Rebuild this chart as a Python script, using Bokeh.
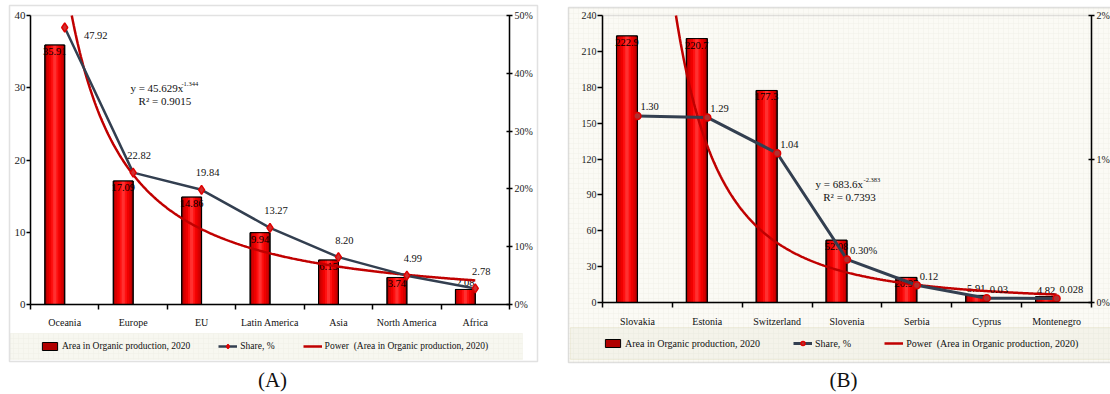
import numpy as np
from bokeh.plotting import figure
from bokeh.models import (Range1d, LinearAxis, FixedTicker, SingleIntervalTicker, PrintfTickFormatter,
                          ColumnDataSource, Label, BoxAnnotation, Legend, LegendItem)
from bokeh.layouts import row
from bokeh.embed import file_html
from bokeh.resources import INLINE
from bokeh.core.properties import value

FONT = "Liberation Serif"

# ---------------- data: panel A ----------------
regions = ["Oceania", "Europe", "EU", "Latin America", "Asia", "North America", "Africa"]
area_a = [35.91, 17.09, 14.86, 9.94, 6.15, 3.74, 2.08]
share_a = [47.92, 22.82, 19.84, 13.27, 8.20, 4.99, 2.78]
share_a_labels = ["47.92", "22.82", "19.84", "13.27", "8.20", "4.99", "2.78"]
trend_a = (45.629, -1.344)
r2_a = "0.9015"

# ---------------- data: panel B ----------------
countries = ["Slovakia", "Estonia", "Switzerland", "Slovenia", "Serbia", "Cyprus", "Montenegro"]
area_b = [222.9, 220.7, 177.3, 52.08, 20.97, 5.91, 4.82]
share_b = [1.30, 1.29, 1.04, 0.30, 0.12, 0.03, 0.028]
share_b_labels = ["1.30", "1.29", "1.04", "0.30%", "0.12", "0.03", "0.028"]
trend_b = (683.6, -2.383)
r2_b = "0.7393"

LEG_AREA = "Area in Organic production, 2020"
LEG_SHARE = "Share, %"
LEG_POWER = "Power  (Area in Organic production, 2020)"


def canvas_box(l, r, t, b, **kw):
    return BoxAnnotation(left=l, right=r, top=t, bottom=b, left_units="canvas", right_units="canvas",
                         top_units="canvas", bottom_units="canvas", **kw)


def build(cats, area, share, share_labels, trend, r2, cfg):
    n = len(cats)
    pos = list(range(1, n + 1))
    W, H = cfg["width"], 394
    L, R, T, B = cfg["left"], cfg["right"], cfg["top"], cfg["bottom"]
    fh = B - T
    pxx = (R - L) / n
    pxy = fh / cfg["ymax"]
    pxs = fh / cfg["smax"]
    # the frame covers the whole canvas; the plot area sits inside it
    p = figure(width=W, height=H, output_backend="svg", toolbar_location=None,
               x_range=Range1d(0.5 - L / pxx, n + 0.5 + (W - R) / pxx),
               y_range=Range1d(-(H - B) / pxy, cfg["ymax"] + T / pxy),
               min_border=0, min_border_left=0, min_border_right=0, min_border_top=0, min_border_bottom=0)
    p.extra_y_ranges = {"share": Range1d(-(H - B) / pxs, cfg["smax"] + T / pxs)}
    p.background_fill_color = "white"
    p.border_fill_color = "white"
    p.outline_line_color = None
    p.xgrid.visible = False
    p.ygrid.visible = False

    # panel decorations
    p.add_layout(canvas_box(*cfg["box"], fill_color=cfg["panel_fill"], fill_alpha=1.0, line_color=None,
                            level="underlay", hatch_pattern="cross", hatch_color=cfg["hatch"], hatch_scale=5,
                            hatch_weight=0.5))
    p.add_layout(canvas_box(*cfg["legbox"], fill_color=cfg["leg_fill"], fill_alpha=1.0, line_color=cfg["leg_line"],
                            line_width=1, level="underlay", hatch_pattern="cross", hatch_color=cfg["leg_hatch"],
                            hatch_scale=5, hatch_weight=0.5))
    p.add_layout(canvas_box(*cfg["box"], fill_color=None, line_color="#9A9A9A", line_width=1.5))
    # plot-area border
    p.add_layout(BoxAnnotation(left=0.5, right=n + 0.5, bottom=0, top=cfg["ymax"], fill_color=None,
                               line_color="#A0A0A0", line_width=1.5, level="underlay"))

    # bars with a cylindrical shading
    bw = cfg["bw"]
    bx = [x - bw / 2 for x in pos]
    src = ColumnDataSource(dict(x=bx, top=area))
    bars = p.vbar(x="x", top="top", width=bw, source=src, fill_color="#B00000", line_color="black", line_width=1)
    for f, c in [(0.82, "#D80000"), (0.6, "#F00000"), (0.36, "#FF1010"), (0.16, "#FF3030")]:
        p.vbar(x="x", top="top", width=bw * f, source=src, fill_color=c, line_color=None)
    p.vbar(x="x", top="top", width=bw, source=src, fill_color=None, line_color="black", line_width=1)

    # bar value labels
    ins = [v * pxy >= 16 for v in area]
    s_in = ColumnDataSource(dict(x=[b for b, k in zip(bx, ins) if k], y=[v for v, k in zip(area, ins) if k],
                                 t=[str(v) for v, k in zip(area, ins) if k]))
    s_out = ColumnDataSource(dict(x=[b for b, k in zip(bx, ins) if not k], y=[v for v, k in zip(area, ins) if not k],
                                  t=[str(v) for v, k in zip(area, ins) if not k]))
    p.text(x="x", y="y", text="t", source=s_in, text_font=value(FONT), text_font_size="10.5px",
           text_color="black", text_align="center", text_baseline="top", y_offset=3)
    p.text(x="x", y="y", text="t", source=s_out, text_font=value(FONT), text_font_size="10.5px",
           text_color="black", text_align="center", text_baseline="bottom", y_offset=-3)

    # power trendline from the equation shown on the chart, kept inside the plot area
    a, b = trend
    x0 = max(1.0, (cfg["ymax"] / a) ** (1.0 / b))
    xs = np.linspace(x0, n, 400)
    power = p.line(xs, a * xs ** b, line_color="#C00000", line_width=2.5)

    # share line
    sl = p.line(pos, share, y_range_name="share", line_color="#333F50", line_width=cfg["share_w"])
    sm = p.scatter(pos, share, y_range_name="share", marker=cfg["marker"], size=cfg["msize"],
                   fill_color=cfg["mfill"], line_color="#E00000", line_width=1.5)

    dxs, dys = [], []
    for v in share:
        if v * pxs > fh - 28:
            dxs.append(cfg["top_dx"]); dys.append(cfg["top_dy"])
        else:
            dxs.append(cfg["lab_dx"]); dys.append(cfg["lab_dy"])
    ls = ColumnDataSource(dict(x=pos, y=share, t=share_labels, dx=dxs, dy=dys))
    p.text(x="x", y="y", text="t", source=ls, y_range_name="share", x_offset="dx", y_offset="dy",
           text_font=value(FONT), text_font_size="10.5px", text_color="#111111",
           text_align=cfg["lab_align"], text_baseline="middle")

    # equation annotation
    ex, ey = cfg["eq"]
    rx, ry = cfg["r2"]
    p.add_layout(Label(x=ex, y=ey, text="y = %gx" % a, text_font=FONT, text_font_size="11px",
                       text_baseline="middle", text_color="#111111"))
    p.add_layout(Label(x=ex, y=ey, x_offset=cfg["sup_dx"], y_offset=4, text="%g" % b, text_font=FONT,
                       text_font_size="6.5px", text_baseline="middle", text_color="#111111"))
    p.add_layout(Label(x=rx, y=ry, text="R\u00b2 = " + r2, text_font=FONT, text_font_size="11px",
                       text_baseline="middle", text_color="#111111"))

    # axes, fixed at the plot-area edges
    xa = p.xaxis[0]
    xa.fixed_location = 0
    xa.bounds = (0.5, n + 0.5)
    xa.ticker = FixedTicker(ticks=pos, minor_ticks=[x - 0.5 for x in pos] + [n + 0.5])
    xa.major_label_overrides = {x: c for x, c in zip(pos, cats)}
    xa.major_tick_out = 0
    xa.major_tick_in = 0
    xa.minor_tick_out = 5
    xa.minor_tick_in = 0
    xa.minor_tick_line_color = "black"
    xa.minor_tick_line_width = 1.5
    xa.major_label_standoff = cfg["xstand"]

    ya = p.yaxis[0]
    ya.fixed_location = 0.5
    ya.bounds = (0, cfg["ymax"])
    ya.ticker = SingleIntervalTicker(interval=cfg["ystep"], num_minor_ticks=0)
    ya.major_tick_out = cfg["ytick"]
    ya.major_tick_in = 0
    ya.major_label_standoff = 1
    ya.major_label_text_font_size = cfg["yfs"]

    ra = LinearAxis(y_range_name="share", ticker=SingleIntervalTicker(interval=cfg["sstep"], num_minor_ticks=0),
                    formatter=PrintfTickFormatter(format="%d%%"), fixed_location=n + 0.5,
                    bounds=(0, cfg["smax"]))
    ra.major_tick_out = 3
    ra.major_tick_in = 3
    ra.major_label_standoff = 2
    ra.major_label_text_font_size = "10px"
    p.add_layout(ra, "right")

    for ax in [xa, ya, ra]:
        ax.axis_line_color = "black"
        ax.axis_line_width = 1.5
        ax.major_tick_line_color = "black"
        ax.major_tick_line_width = 1.5
        ax.major_label_text_font = FONT
        ax.major_label_text_color = "#222222"
    xa.major_label_text_font_size = "10px"
    xa.major_label_text_color = "#111111"

    # legend below the plot area
    lx, lyc = cfg["legpos"]
    leg = Legend(items=[LegendItem(label=LEG_AREA, renderers=[bars]),
                        LegendItem(label=LEG_SHARE, renderers=[sl, sm]),
                        LegendItem(label=LEG_POWER, renderers=[power])],
                 orientation="horizontal", location=(lx, H - lyc - 6), glyph_width=19, glyph_height=10,
                 label_standoff=3, spacing=cfg["legsp"], padding=0, margin=0, label_height=12,
                 label_text_font=FONT, label_text_font_size=cfg["legfs"], label_text_color="#111111",
                 border_line_color=None, background_fill_alpha=0)
    p.add_layout(leg)

    # caption
    cx, cy, ct = cfg["cap"]
    p.add_layout(Label(x=cx, y=H - cy, x_units="screen", y_units="screen", text=ct,
                       text_font=FONT, text_font_size="21px", text_align="center", text_baseline="middle",
                       text_color="#111111"))
    return p


cfg_a = dict(width=560, left=30, right=509, top=15, bottom=304, ymax=40, ystep=10, smax=50, sstep=10,
             bw=0.29, panel_fill="white", hatch="white", leg_fill="#F7F7F0", leg_hatch="#EFEFE6",
             leg_line="#ECEBDF", box=(9, 537, 5, 361), legbox=(10, 522, 333, 359),
             share_w=2.5, marker="diamond", msize=9, mfill="#D03030",
             lab_dx=6, lab_dy=-17, top_dx=31, top_dy=8, lab_align="center",
             eq=(1.96, 29.9), r2=(2.08, 28.2), sup_dx=51, xstand=7, ytick=4, yfs="11px",
             legpos=(40, 346), legsp=28, legfs="9.5px", cap=(272, 379, "(A)"))

cfg_b = dict(width=550, left=42, right=531, top=15, bottom=302, ymax=240, ystep=30, smax=2, sstep=1,
             bw=0.30, panel_fill="#FBFAF5", hatch="#F1F0E8", leg_fill="#F4F3EA", leg_hatch="#EBEAE0",
             leg_line="#DCD3B0", box=(8, 560, 7, 362), legbox=(10, 552, 327, 359),
             share_w=3, marker="circle", msize=7, mfill="#B03030",
             lab_dx=3, lab_dy=-9, top_dx=3, top_dy=-9, lab_align="left",
             eq=(3.55, 99.5), r2=(3.66, 88.6), sup_dx=48, xstand=8, ytick=5, yfs="10px",
             legpos=(43, 343), legsp=33, legfs="10px", cap=(283, 379, "(B)"))

pa = build(regions, area_a, share_a, share_a_labels, trend_a, r2_a, cfg_a)
pb = build(countries, area_b, share_b, share_b_labels, trend_b, r2_b, cfg_b)

layout = row(pa, pb)
html = file_html(layout, INLINE)
html = html.replace("<head>", "<head><style>html,body{margin:0;padding:0;overflow:hidden}</style>", 1)
open("out.html", "w").write(html)
